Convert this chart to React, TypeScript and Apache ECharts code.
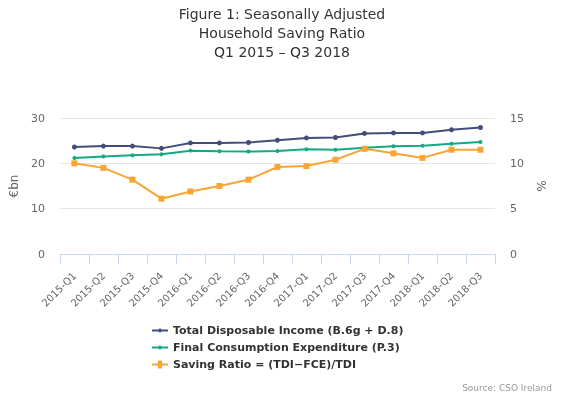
import React, { useEffect, useRef } from "react";
import * as echarts from "echarts";

const categories = [
  "2015-Q1", "2015-Q2", "2015-Q3", "2015-Q4",
  "2016-Q1", "2016-Q2", "2016-Q3", "2016-Q4",
  "2017-Q1", "2017-Q2", "2017-Q3", "2017-Q4",
  "2018-Q1", "2018-Q2", "2018-Q3",
];
const tdi = [23.6, 23.8, 23.8, 23.3, 24.5, 24.5, 24.6, 25.1, 25.6, 25.7, 26.6, 26.7, 26.7, 27.4, 27.9];
const fce = [21.2, 21.5, 21.8, 22.0, 22.8, 22.65, 22.6, 22.7, 23.1, 23.0, 23.45, 23.75, 23.9, 24.3, 24.7];
const savingRatio = [10.0, 9.5, 8.2, 6.1, 6.9, 7.5, 8.2, 9.6, 9.7, 10.4, 11.6, 11.1, 10.6, 11.5, 11.5];

const seriesNames = [
  "Total Disposable Income (B.6g + D.8)",
  "Final Consumption Expenditure (P.3)",
  "Saving Ratio = (TDI\u2212FCE)/TDI",
];

const FONT = "DejaVu Sans";

export default function App() {
  const ref = useRef<HTMLDivElement>(null);
  useEffect(() => {
    if (!ref.current) return;
    const chart = echarts.init(ref.current, undefined, { renderer: "svg" });
    chart.setOption({
      animation: false,
      textStyle: { fontFamily: FONT },
      title: {
        text: "Figure 1: Seasonally Adjusted\nHousehold Saving Ratio\nQ1 2015 \u2013 Q3 2018",
        left: "center",
        top: -1,
        textStyle: { fontFamily: FONT, fontSize: 14, fontWeight: "normal", color: "#333333", lineHeight: 19 },
      },
      grid: { left: 55, right: 69, top: 118, height: 136 },
      legend: {
        orient: "vertical",
        left: 147,
        top: 320,
        itemGap: 6,
        itemWidth: 16,
        itemHeight: 12,
        textStyle: { fontFamily: FONT, fontSize: 11, fontWeight: "bold", color: "#333333" },
        data: seriesNames.map((n, i) => ({
          name: n,
          itemStyle: { borderWidth: 0 },
          icon: i === 2
            ? "path://M0,5 L6,5 L6,2 L10,2 L10,5 L16,5 L16,7 L10,7 L10,10 L6,10 L6,7 L0,7 Z"
            : "path://M0,5 L6.5,5 A1.6,1.6 0 0 1 9.5,5 L16,5 L16,7 L9.5,7 A1.6,1.6 0 0 1 6.5,7 L0,7 Z",
        })),
      },
      graphic: [
        {
          type: "text",
          right: 12,
          top: 383,
          style: { text: "Source: CSO Ireland", fontFamily: FONT, fontSize: 9, fill: "#999999" },
        },
      ],
      xAxis: {
        type: "category",
        data: categories,
        boundaryGap: true,
        axisLine: { lineStyle: { color: "#ccd6eb" } },
        axisTick: { show: true, length: 10, lineStyle: { color: "#ccd6eb" } },
        axisLabel: { rotate: 45, fontSize: 10, color: "#666666", margin: 20, interval: 0, fontFamily: FONT },
      },
      yAxis: [
        {
          type: "value",
          min: 0,
          max: 30,
          interval: 10,
          name: "\u20acbn",
          nameLocation: "middle",
          nameRotate: 90,
          nameGap: 36,
          nameTextStyle: { color: "#666666", fontSize: 12, fontFamily: FONT },
          axisLabel: { color: "#666666", fontSize: 11, margin: 15, fontFamily: FONT },
          splitLine: { lineStyle: { color: "#e6e6e6" } },
          axisLine: { show: false },
          axisTick: { show: false },
        },
        {
          type: "value",
          min: 0,
          max: 15,
          interval: 5,
          position: "right",
          name: "%",
          nameLocation: "middle",
          nameRotate: -90,
          nameGap: 40,
          nameTextStyle: { color: "#666666", fontSize: 12, fontFamily: FONT },
          axisLabel: { color: "#666666", fontSize: 11, margin: 15, fontFamily: FONT },
          splitLine: { show: false },
          axisLine: { show: false },
          axisTick: { show: false },
        },
      ],
      series: [
        {
          name: seriesNames[0],
          type: "line",
          data: tdi,
          yAxisIndex: 0,
          symbol: "circle",
          symbolSize: 5,
          itemStyle: { color: "#434d7c" },
          lineStyle: { width: 2, color: "#434d7c" },
        },
        {
          name: seriesNames[1],
          type: "line",
          data: fce,
          yAxisIndex: 0,
          symbol: "circle",
          symbolSize: 4,
          itemStyle: { color: "#14a985" },
          lineStyle: { width: 2, color: "#14a985" },
        },
        {
          name: seriesNames[2],
          type: "line",
          data: savingRatio,
          yAxisIndex: 1,
          symbol: "rect",
          symbolSize: 6,
          itemStyle: { color: "#f8a536" },
          lineStyle: { width: 2, color: "#f8a536" },
        },
      ],
    });
    return () => chart.dispose();
  }, []);
  return <div ref={ref} style={{ position: "fixed", left: 0, top: 0, width: 564, height: 398 }} />;
}
